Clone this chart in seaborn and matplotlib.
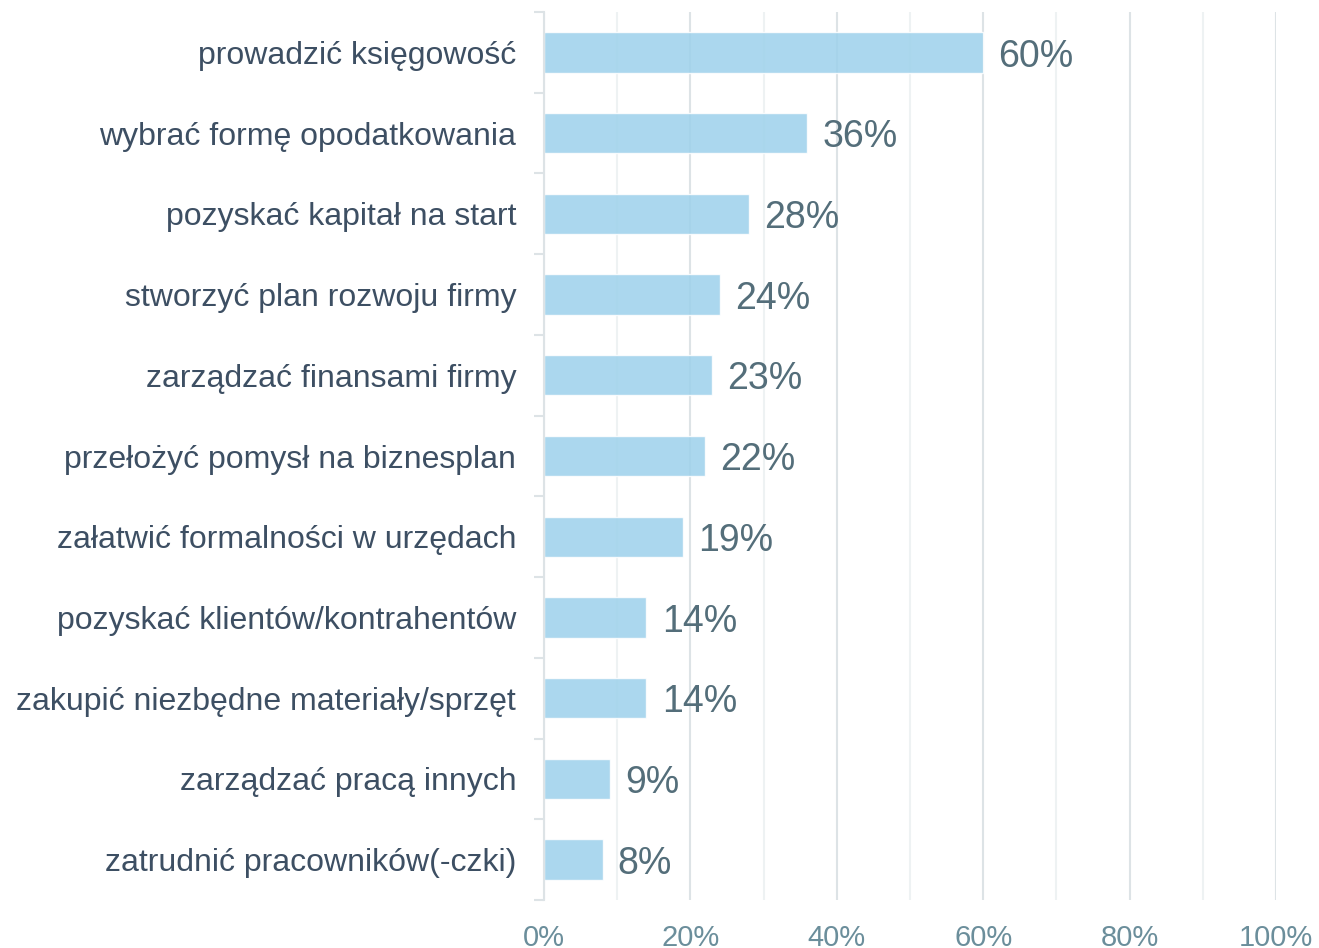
import matplotlib.pyplot as plt
import matplotlib.ticker as mticker
import seaborn as sns
import pandas as pd

sns.set_theme(style="white")
plt.rcParams['font.family'] = ['Liberation Sans', 'DejaVu Sans']

# data
categories = [
    "prowadzić księgowość",
    "wybrać formę opodatkowania",
    "pozyskać kapitał na start",
    "stworzyć plan rozwoju firmy",
    "zarządzać finansami firmy",
    "przełożyć pomysł na biznesplan",
    "załatwić formalności w urzędach",
    "pozyskać klientów/kontrahentów",
    "zakupić niezbędne materiały/sprzęt",
    "zarządzać pracą innych",
    "zatrudnić pracowników(-czki)",
]
values = [60, 36, 28, 24, 23, 22, 19, 14, 14, 9, 8]
x_ticks = [0, 20, 40, 60, 80, 100]

df = pd.DataFrame({"task": categories, "pct": values})

fig = plt.figure(figsize=(13.19, 9.48), dpi=100)
ax = fig.add_axes([0.4124, 0.0506, 0.9674 - 0.4124, 0.9873 - 0.0506])

sns.barplot(data=df, x="pct", y="task", orient="h", color="#9dd1eb",
            alpha=0.85, width=0.5, saturation=1, ax=ax)

# value labels, nudged down a little to sit centred on the bar
texts = ax.bar_label(ax.containers[0], labels=[f"{v}%" for v in values],
                     padding=11, fontsize=27, color="#546e7a")
for t in texts:
    t.xyann = (11, -3)

ax.set_xlim(0, 100)
ax.set_ylim(len(categories) - 0.5, -0.5)
ax.set_xlabel("")
ax.set_ylabel("")

# grid: darker every 20%, lighter every 10%
ax.set_axisbelow(True)
ax.xaxis.set_major_locator(mticker.FixedLocator(x_ticks))
ax.xaxis.set_minor_locator(mticker.MultipleLocator(10))
ax.xaxis.set_major_formatter(mticker.FuncFormatter(lambda v, p: f"{int(v)}%"))
ax.grid(axis="x", which="major", color="#dde3e6", linewidth=1.5)
ax.grid(axis="x", which="minor", color="#eef2f3", linewidth=1.5)
ax.tick_params(axis="x", which="both", length=0, pad=17, labelsize=21,
               labelcolor="#6b8e9b")

# y ticks: labels at centres, small marks at boundaries
ax.yaxis.set_minor_locator(mticker.FixedLocator(
    [i - 0.5 for i in range(len(categories) + 1)]))
ax.tick_params(axis="y", which="major", length=0, pad=20, labelsize=23,
               labelcolor="#3d4f63")
ax.tick_params(axis="y", which="minor", length=7, width=1.5, color="#dde3e6",
               left=True)

for side in ["top", "right", "bottom"]:
    ax.spines[side].set_visible(False)
ax.spines["left"].set_color("#dde3e6")
ax.spines["left"].set_linewidth(1.5)

fig.savefig("out.png", dpi=100)
